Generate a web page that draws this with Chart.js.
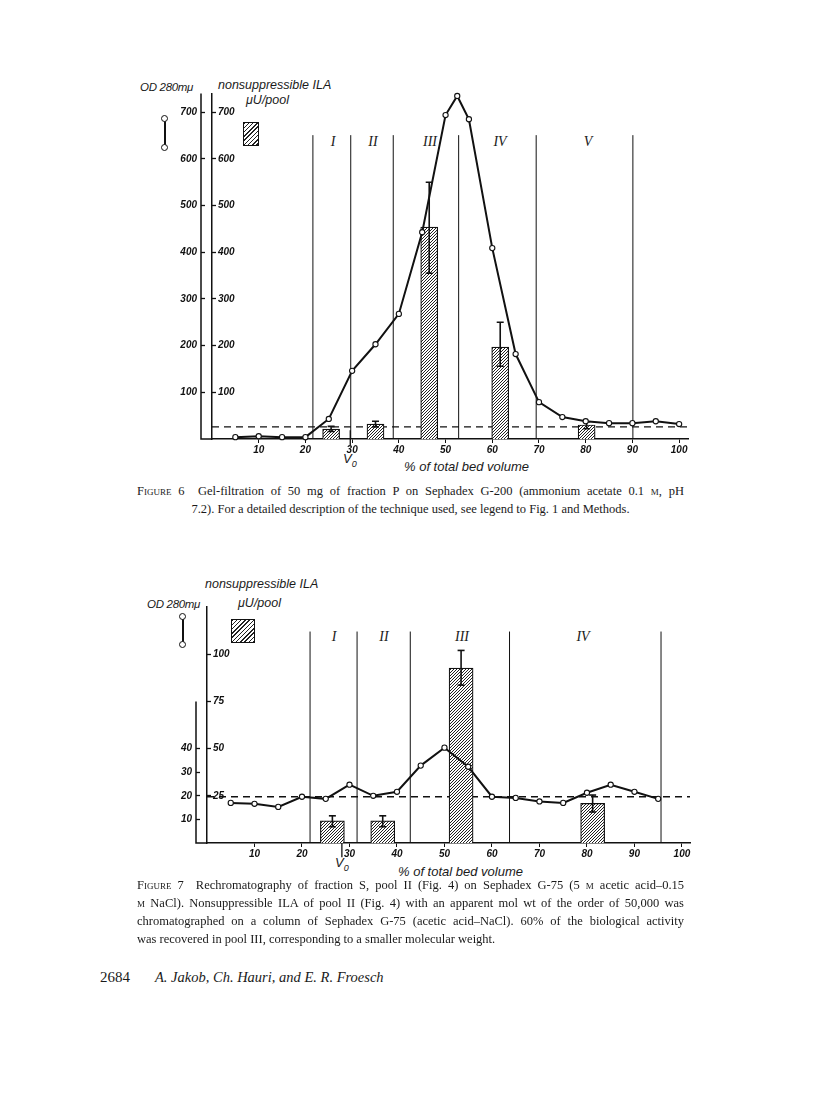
<!DOCTYPE html>
<html>
<head>
<meta charset="utf-8">
<script src="https://cdn.jsdelivr.net/npm/chart.js@4.4.1/dist/chart.umd.min.js"></script>
<style>
  body { margin:0; width:816px; height:1100px; background:#fff; position:relative; overflow:hidden; color:#1a1a1a; }
  canvas { position:absolute; left:0; }
  .t { position:absolute; font-family:"Liberation Sans", sans-serif; font-style:italic; white-space:nowrap; line-height:1; }
  .od { font-size:11.5px; letter-spacing:-0.3px; }
  .rn { position:absolute; font-family:"Liberation Serif", serif; font-style:italic; font-size:14px; line-height:1; transform:translateX(-50%); }
  .cap { position:absolute; left:137px; width:547px; font-family:"Liberation Serif", serif; font-size:12.5px; line-height:18px; }
  .cap div { text-align:justify; text-align-last:justify; }
  .cap div.last { text-align-last:left; }
  .cap div.mid { text-align:center; text-align-last:center; }
  .sc { font-variant:small-caps; }
  .odline { position:absolute; width:2px; background:#111; }
  .dot { position:absolute; width:5px; height:5px; border:1.3px solid #111; border-radius:50%; background:#fff; }
  .hatch { position:absolute; border:1.5px solid #111; background:repeating-linear-gradient(135deg, #222 0 1px, #fff 1px 3px); }
</style>
</head>
<body>

<!-- figure 6 labels -->
<div class="t od" style="left:140px;top:82px;">OD 280mμ</div>
<div class="t" style="left:218px;top:79px;font-size:12.5px;">nonsuppressible ILA</div>
<div class="t" style="left:246px;top:94px;font-size:12.5px;">μU/pool</div>
<div class="odline" style="left:164px;top:119px;height:29px;"></div>
<div class="dot" style="left:161px;top:115px;"></div>
<div class="dot" style="left:161px;top:144px;"></div>
<div class="hatch" style="left:243px;top:122px;width:14px;height:22px;"></div>
<div class="rn" style="left:333px;top:135px;">I</div>
<div class="rn" style="left:373px;top:135px;">II</div>
<div class="rn" style="left:430px;top:135px;">III</div>
<div class="rn" style="left:500px;top:135px;">IV</div>
<div class="rn" style="left:588px;top:135px;">V</div>
<div class="t" style="left:343px;top:452px;font-size:13px;">V<sub style="font-size:9px">0</sub></div>
<div class="t" style="left:404px;top:460px;font-size:13px;">% of total bed volume</div>

<canvas id="fig6" width="816" height="410" style="top:70px"></canvas>

<div class="cap" style="top:482px;">
  <div><span class="sc">Figure</span> 6&nbsp; Gel-filtration of 50 mg of fraction P on Sephadex G-200 (ammonium acetate 0.1 <span class="sc">m</span>, pH</div>
  <div class="mid">7.2). For a detailed description of the technique used, see legend to Fig. 1 and Methods.</div>
</div>

<!-- figure 7 labels -->
<div class="t od" style="left:147px;top:599px;">OD 280mμ</div>
<div class="t" style="left:205px;top:578px;font-size:12.5px;">nonsuppressible ILA</div>
<div class="t" style="left:238px;top:597px;font-size:12.5px;">μU/pool</div>
<div class="odline" style="left:182px;top:617px;height:28px;"></div>
<div class="dot" style="left:179px;top:613px;"></div>
<div class="dot" style="left:179px;top:641px;"></div>
<div class="hatch" style="left:231px;top:619px;width:22px;height:22px;"></div>
<div class="rn" style="left:334px;top:630px;">I</div>
<div class="rn" style="left:384px;top:630px;">II</div>
<div class="rn" style="left:462px;top:630px;">III</div>
<div class="rn" style="left:583px;top:630px;">IV</div>
<div class="t" style="left:335px;top:856px;font-size:13px;">V<sub style="font-size:9px">0</sub></div>
<div class="t" style="left:398px;top:865px;font-size:13px;">% of total bed volume</div>

<canvas id="fig7" width="816" height="300" style="top:580px"></canvas>

<div class="cap" style="top:876px;">
  <div><span class="sc">Figure</span> 7&nbsp; Rechromatography of fraction S, pool II (Fig. 4) on Sephadex G-75 (5 <span class="sc">m</span> acetic acid–0.15</div>
  <div><span class="sc">m</span> NaCl). Nonsuppressible ILA of pool II (Fig. 4) with an apparent mol wt of the order of 50,000 was</div>
  <div>chromatographed on a column of Sephadex G-75 (acetic acid–NaCl). 60% of the biological activity</div>
  <div class="last">was recovered in pool III, corresponding to a smaller molecular weight.</div>
</div>

<div style="position:absolute;left:100px;top:969px;font-family:'Liberation Serif',serif;font-size:15px;">2684</div>
<div style="position:absolute;left:155px;top:969px;font-family:'Liberation Serif',serif;font-size:14.5px;font-style:italic;">A. Jakob, Ch. Hauri, and E. R. Froesch</div>

<script>
// x axis, % of total bed volume
var xTicks = [10, 20, 30, 40, 50, 60, 70, 80, 90, 100];

// Figure 6 - Sephadex G-200
var fig6Volume = [5, 10, 15, 20, 25, 30, 35, 40, 45, 50, 52.5, 55, 60, 65, 70, 75, 80, 85, 90, 95, 100];
var fig6OD = [4, 6, 4, 4, 43, 146, 203, 268, 443, 694, 735, 685, 409, 182, 79, 47, 38, 34, 34, 38, 32];
var fig6BarPos = [25.5, 35, 46.5, 61.7, 80.2];
var fig6ILA = [21, 32, 454, 197, 30];
var fig6ErrLow = [16, 26, 355, 156, 22];
var fig6ErrHigh = [27, 38, 550, 250, 37];
var fig6Pools = [21.6, 29.7, 38.8, 52.8, 69.4, 90.1];
var fig6ILATicks = [100, 200, 300, 400, 500, 600, 700];
var fig6ODTicks = [100, 200, 300, 400, 500, 600, 700];
var fig6Baseline = 26;
var fig6Vo = 29.6;

// Figure 7 - Sephadex G-75
var fig7Volume = [5, 10, 15, 20, 25, 30, 35, 40, 45, 50, 55, 60, 65, 70, 75, 80, 85, 90, 95];
var fig7OD = [17, 16.6, 15.3, 19.6, 18.7, 24.7, 20, 21.7, 32.8, 40.4, 32.3, 19.6, 19.1, 17.6, 17, 21.3, 24.7, 21.7, 18.7];
var fig7BarPos = [26.4, 37, 53.5, 81.2];
var fig7ILA = [11.7, 11.7, 92.6, 21];
var fig7ErrLow = [8.6, 8.6, 83.6, 16.4];
var fig7ErrHigh = [14.4, 14.4, 102, 25.4];
var fig7Pools = [21.7, 31.6, 42.8, 63.7, 95.6];
var fig7ILATicks = [25, 50, 75, 100];
var fig7ODTicks = [10, 20, 30, 40];
var fig7Baseline = 24.5;
var fig7Vo = 28.4;

var ink = '#111';
var axisFont = { family: 'Liberation Sans', style: 'italic', weight: 'bold', size: 10 };

function pt(xs, ys) {
    return xs.map(function(x, i) { return { x: x, y: ys[i] }; });
}

function hatchPattern(ctx) {
    var c = document.createElement('canvas');
    c.width = 3; c.height = 3;
    var g = c.getContext('2d');
    g.fillStyle = '#fff'; g.fillRect(0, 0, 3, 3);
    g.strokeStyle = '#222'; g.lineWidth = 1;
    g.beginPath();
    g.moveTo(0, 3); g.lineTo(3, 0);
    g.moveTo(-1, 1); g.lineTo(1, -1);
    g.moveTo(2, 4); g.lineTo(4, 2);
    g.stroke();
    return ctx.createPattern(c, 'repeat');
}

// OD axis line (can stop short of the top) + x axis joined to it
var axisJoin = {
    id: 'axisJoin',
    afterDraw: function(chart, args, opts) {
        var od = chart.scales.yOD, xs = chart.scales.x, c = chart.ctx;
        c.save();
        c.strokeStyle = ink; c.lineWidth = 1.5;
        c.beginPath();
        c.moveTo(od.right, od.getPixelForValue(opts.odTop));
        c.lineTo(od.right, xs.top);
        c.lineTo(chart.chartArea.left, xs.top);
        c.stroke();
        c.restore();
    }
};

function makeFigure(id, d) {
    var ctx = document.getElementById(id).getContext('2d');
    var ds = [];
    ds.push({ type: 'line', data: pt(d.volume, d.od), yAxisID: 'yOD', borderColor: ink, borderWidth: 2,
        pointRadius: 2.6, pointBackgroundColor: '#fff', pointBorderColor: ink, pointBorderWidth: 1.1, order: 0, clip: false });
    d.barPos.forEach(function(x, i) {
        ds.push({ type: 'line', data: [{ x: x, y: d.errLow[i] }, { x: x, y: d.errHigh[i] }], yAxisID: 'yILA',
            borderColor: ink, borderWidth: 1.6, pointStyle: 'line', pointRadius: 3.5, pointBorderWidth: 1.6,
            pointBorderColor: ink, order: 1 });
    });
    ds.push({ type: 'bar', data: pt(d.barPos, d.ila), yAxisID: 'yILA', backgroundColor: hatchPattern(ctx),
        borderColor: ink, borderWidth: 1.2, barThickness: d.barWidth, order: 2 });
    d.pools.forEach(function(x) {
        ds.push({ type: 'line', data: [{ x: x, y: 0 }, { x: x, y: d.poolTop }], yAxisID: 'yILA',
            borderColor: ink, borderWidth: 1, pointRadius: 0, order: 3 });
    });
    ds.push({ type: 'line', data: [{ x: 0, y: d.baseline }, { x: d.xMax, y: d.baseline }], yAxisID: 'yILA',
        borderColor: ink, borderWidth: 1.3, borderDash: [7, 5], pointRadius: 0, order: 3 });
    ds.push({ type: 'line', data: [{ x: d.vo, y: d.voTop }, { x: d.vo, y: d.voBottom }], yAxisID: 'yILA',
        borderColor: ink, borderWidth: 1.3, pointRadius: 0, clip: false, order: 3 });

    return new Chart(ctx, {
        type: 'line',
        data: { datasets: ds },
        plugins: [axisJoin],
        options: {
            responsive: false,
            animation: false,
            events: [],
            layout: { padding: d.pad },
            plugins: { legend: { display: false }, tooltip: { enabled: false }, axisJoin: { odTop: d.odTop } },
            scales: {
                x: {
                    type: 'linear', min: 0, max: d.xMax, offset: false,
                    border: { color: ink, width: 1.5 },
                    grid: { drawOnChartArea: false, color: ink, tickLength: 4, tickWidth: 1, offset: false },
                    ticks: { font: axisFont, color: ink, padding: 1, maxRotation: 0 },
                    afterBuildTicks: function(s) { s.ticks = xTicks.map(function(v) { return { value: v }; }); },
                    afterFit: function(s) { s.height = 30; }
                },
                yILA: {
                    type: 'linear', position: 'left', weight: 0, min: 0, max: d.ilaMax,
                    border: { color: ink, width: 1.5 },
                    grid: { drawOnChartArea: false, color: ink, tickLength: -4, tickWidth: 1.3 },
                    ticks: { mirror: true, padding: 6, font: axisFont, color: ink },
                    afterBuildTicks: function(s) { s.ticks = d.ilaTicks.map(function(v) { return { value: v }; }); },
                    afterFit: function(s) { s.width = d.gap; }
                },
                yOD: {
                    type: 'linear', position: 'left', weight: 1, min: 0, max: d.odMax,
                    border: { display: false },
                    grid: { drawOnChartArea: false, color: ink, tickLength: -4, tickWidth: 1.3 },
                    ticks: { padding: 8, font: axisFont, color: ink },
                    afterBuildTicks: function(s) { s.ticks = d.odTicks.map(function(v) { return { value: v }; }); },
                    afterFit: function(s) { s.width = 50; }
                }
            }
        }
    });
}

makeFigure('fig6', {
    volume: fig6Volume, od: fig6OD, barPos: fig6BarPos, ila: fig6ILA,
    errLow: fig6ErrLow, errHigh: fig6ErrHigh, pools: fig6Pools,
    ilaTicks: fig6ILATicks, odTicks: fig6ODTicks, baseline: fig6Baseline, vo: fig6Vo,
    voTop: 19, voBottom: -14, poolTop: 651, barWidth: 17,
    xMax: 101.9, ilaMax: 740, odMax: 740, odTop: 740, gap: 11,
    pad: { left: 151, right: 128, top: 23.6, bottom: 11 }
});

makeFigure('fig7', {
    volume: fig7Volume, od: fig7OD, barPos: fig7BarPos, ila: fig7ILA,
    errLow: fig7ErrLow, errHigh: fig7ErrHigh, pools: fig7Pools,
    ilaTicks: fig7ILATicks, odTicks: fig7ODTicks, baseline: fig7Baseline, vo: fig7Vo,
    voTop: 7, voBottom: -7.5, poolTop: 112, barWidth: 24,
    xMax: 101.7, ilaMax: 125, odMax: 100, odTop: 60, gap: 11,
    pad: { left: 146, right: 126, top: 27, bottom: 7 }
});
</script>
</body>
</html>
